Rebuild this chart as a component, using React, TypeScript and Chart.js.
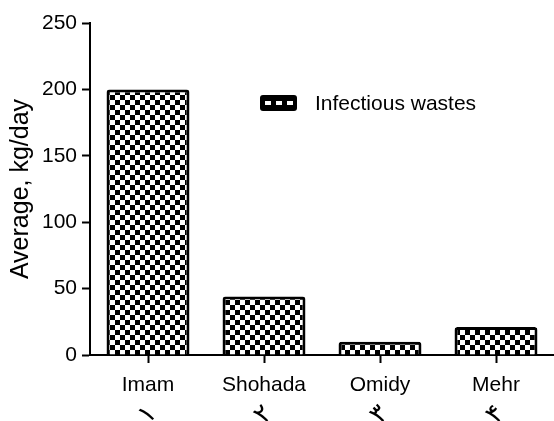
import React, { useEffect, useRef } from "react";
import { Chart, registerables } from "chart.js";

Chart.register(...registerables);

const categories = ["Imam", "Shohada", "Omidy", "Mehr"];
const persianNumbers = ["۱", "۲", "۳", "۴"];
const infectiousWastes = [200, 44, 10, 21];
const seriesLabel = "Infectious wastes";
const yAxisTitle = "Average, kg/day";
const yMax = 250;
const yStep = 50;

const FONT = "'Liberation Sans', Arial, sans-serif";

function makePattern(ctx: CanvasRenderingContext2D) {
  const c = document.createElement("canvas");
  c.width = 10;
  c.height = 10;
  const p = c.getContext("2d")!;
  p.fillStyle = "#000";
  p.fillRect(0, 0, 10, 10);
  p.fillStyle = "#fff";
  p.fillRect(0, 0, 5, 5);
  p.fillRect(5, 5, 5, 5);
  return ctx.createPattern(c, "repeat")!;
}

export default function App() {
  const ref = useRef<HTMLCanvasElement | null>(null);

  useEffect(() => {
    const canvas = ref.current!;
    const ctx = canvas.getContext("2d")!;
    const pattern = makePattern(ctx);

    const extraPlugin = {
      id: "extras",
      afterDraw(chart: any) {
        const c = chart.ctx as CanvasRenderingContext2D;
        const xs = chart.scales.x;
        // second row of category numbers (rotated, cut by the bottom edge)
        c.save();
        c.fillStyle = "#000";
        c.font = "26px 'DejaVu Sans', sans-serif";
        c.textAlign = "center";
        c.textBaseline = "middle";
        persianNumbers.forEach((t, i) => {
          const x = xs.getPixelForTick(i);
          c.save();
          c.translate(x, 415);
          c.rotate(-Math.PI / 4);
          c.fillText(t, 0, 0);
          c.restore();
        });
        c.restore();

        // legend
        const ds = chart.data.datasets[0];
        const bx = 260, by = 95, bw = 37, bh = 16;
        c.save();
        c.fillStyle = "#000";
        c.beginPath();
        (c as any).roundRect(bx, by, bw, bh, 3);
        c.fill();
        c.fillStyle = "#fff";
        for (let k = 0; k < 3; k++) {
          c.fillRect(bx + 5 + k * 11, by + 6, 6, 4);
        }
        c.fillStyle = "#000";
        c.font = "21px " + FONT;
        c.textAlign = "left";
        c.textBaseline = "middle";
        c.fillText(ds.label, 315, by + bh / 2 + 1);
        c.restore();
      },
    };

    const chart = new Chart(canvas, {
      type: "bar",
      data: {
        labels: categories,
        datasets: [
          {
            label: seriesLabel,
            data: infectiousWastes,
            backgroundColor: pattern as any,
            borderColor: "#000",
            borderWidth: 3,
            borderRadius: { topLeft: 3, topRight: 3, bottomLeft: 0, bottomRight: 0 },
            borderSkipped: "bottom",
            barPercentage: 0.715,
            categoryPercentage: 1.0,
          },
        ],
      },
      plugins: [extraPlugin],
      options: {
        responsive: false,
        animation: false,
        layout: { padding: { top: 23, right: 0, left: 0, bottom: 0 } },
        plugins: {
          legend: { display: false },
          tooltip: { enabled: false },
        },
        scales: {
          x: {
            offset: true,
            grid: {
              display: true,
              offset: false,
              drawOnChartArea: false,
              drawTicks: true,
              tickLength: 8,
              tickWidth: 2,
              tickColor: "#000",
            },
            border: { display: true, color: "#000", width: 2 },
            ticks: {
              color: "#000",
              font: { family: FONT, size: 21 },
              padding: 10,
              maxRotation: 0,
            },
            afterFit(scale: any) {
              scale.height = 66;
            },
          },
          y: {
            min: 0,
            max: yMax,
            grid: {
              display: true,
              drawOnChartArea: false,
              drawTicks: true,
              tickLength: 8,
              tickWidth: 2,
              tickColor: "#000",
            },
            border: { display: true, color: "#000", width: 2 },
            ticks: {
              stepSize: yStep,
              color: "#000",
              font: { family: FONT, size: 21 },
              padding: 5,
            },
            title: {
              display: true,
              text: yAxisTitle,
              color: "#000",
              font: { family: FONT, size: 25 },
              padding: { top: 6, bottom: 0 },
            },
            afterFit(scale: any) {
              scale.width = 90;
            },
          },
        },
      },
    });
    return () => chart.destroy();
  }, []);

  return (
    <div style={{ position: "fixed", left: 0, top: 0, width: 554, height: 421, background: "#fff" }}>
      <canvas ref={ref} width={554} height={421} />
    </div>
  );
}
